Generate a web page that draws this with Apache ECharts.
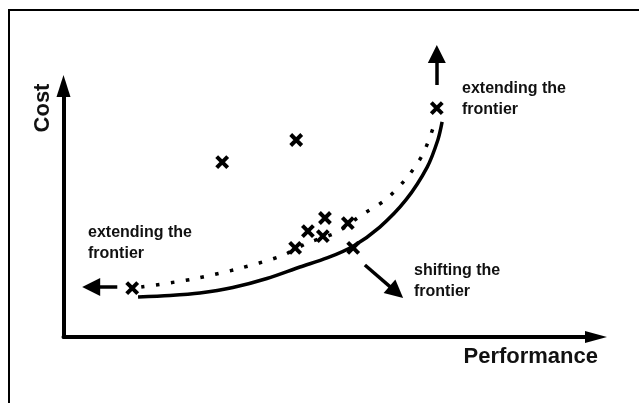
<!DOCTYPE html>
<html>
<head>
<meta charset="utf-8">
<script src="https://cdn.jsdelivr.net/npm/echarts@6/dist/echarts.min.js"></script>
<style>
  html, body { margin: 0; padding: 0; background: #fff; }
  #chart { width: 639px; height: 403px; }
</style>
</head>
<body>
<div id="chart"></div>
<script>
// designs as [performance, cost], arbitrary units 0-100
let designs = [
  [12.9, 19.5], [29.8, 69.7], [43.7, 78.5], [43.5, 35.5], [45.9, 42.2],
  [49.1, 47.4], [48.7, 40.2], [53.4, 45.4], [54.4, 35.5], [70.1, 91.2]
];
// shifted frontier (solid)
let newFrontier = [
  [14.0, 15.9], [20.0, 16.5], [25.6, 17.5], [31.8, 19.7], [38.2, 23.3],
  [44.4, 27.9], [49.5, 31.5], [54.4, 36.2], [59.4, 43.8], [64.3, 54.6],
  [68.3, 67.7], [70.3, 78.5], [71.1, 85.7]
];
// current frontier (dotted)
let oldFrontier = [
  [14.6, 19.9], [24.3, 23.1], [32.6, 27.1], [40.9, 32.3], [45.9, 37.5],
  [51.4, 41.8], [55.7, 48.2], [60.4, 54.6], [64.3, 63.0], [67.5, 72.9], [69.6, 84.5]
];
// arrows: [from, head]
let arrows = [
  [[10.1, 19.9], [5.2, 19.9]],
  [[70.1, 100.4], [70.1, 112.7]],
  [[56.6, 28.7], [62.5, 17.9]]
];
let notes = ['extending the\nfrontier', 'extending the\nfrontier', 'shifting the\nfrontier'];

let chart = echarts.init(document.getElementById('chart'));

let arrowAxis = (size) => ({
  type: 'value',
  min: 0,
  max: 100,
  axisLine: {
    show: true,
    symbol: ['none', 'triangle'],
    symbolSize: size,
    lineStyle: { color: '#000', width: 4 }
  },
  axisTick: { show: false },
  axisLabel: { show: false },
  splitLine: { show: false }
});

let noteStyle = { fill: '#111', font: 'bold 16px "Liberation Sans", Arial, sans-serif', lineHeight: 21 };

chart.setOption({
  animation: false,
  grid: { left: 63.5, right: 43, top: 86, bottom: 66 },
  xAxis: arrowAxis([12, 22]),
  yAxis: arrowAxis([14, 22]),
  graphic: [
    { type: 'polyline', shape: { points: [[9, 403], [9, 10], [639, 10]] }, style: { stroke: '#000', lineWidth: 2, fill: null } },
    { type: 'text', x: 598, y: 357, style: { text: 'Performance', fill: '#111', font: 'bold 22px "Liberation Sans", Arial, sans-serif', textAlign: 'right', textVerticalAlign: 'middle' } },
    { type: 'text', x: 43, y: 108, rotation: Math.PI / 2, style: { text: 'Cost', fill: '#111', font: 'bold 22px "Liberation Sans", Arial, sans-serif', textAlign: 'center', textVerticalAlign: 'middle' } },
    { type: 'text', x: 462, y: 78, style: Object.assign({ text: notes[0] }, noteStyle) },
    { type: 'text', x: 88, y: 222, style: Object.assign({ text: notes[1] }, noteStyle) },
    { type: 'text', x: 414, y: 260, style: Object.assign({ text: notes[2] }, noteStyle) }
  ],
  series: [
    {
      type: 'line',
      data: oldFrontier,
      smooth: 0.3,
      showSymbol: false,
      lineStyle: { color: '#000', width: 3.5, type: [3.5, 11.5], cap: 'butt' }
    },
    {
      type: 'line',
      data: newFrontier,
      smooth: 0.3,
      showSymbol: false,
      lineStyle: { color: '#000', width: 3.5 }
    },
    {
      type: 'lines',
      coordinateSystem: 'cartesian2d',
      clip: false,
      symbol: ['none', 'triangle'],
      symbolSize: [12, 18],
      lineStyle: { color: '#000', width: 3.5, opacity: 1 },
      data: arrows.map(a => ({ coords: a }))
    },
    {
      type: 'scatter',
      data: designs,
      symbol: 'path://M0,0L11,11M11,0L0,11',
      symbolSize: 11,
      itemStyle: { color: 'transparent', borderColor: '#000', borderWidth: 4, opacity: 1 },
      z: 5
    }
  ]
});
</script>
</body>
</html>
